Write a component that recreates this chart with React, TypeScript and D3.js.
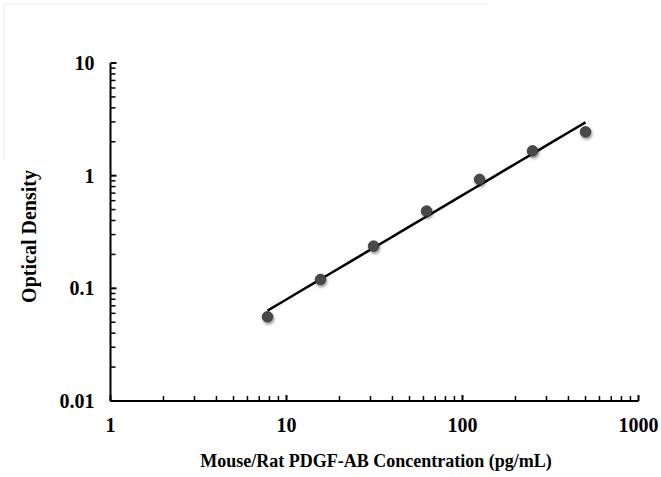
import React from "react";
import * as d3 from "d3";

const concentrations = [7.8, 15.6, 31.25, 62.5, 125, 250, 500];
const opticalDensity = [0.056, 0.12, 0.237, 0.485, 0.927, 1.66, 2.45];
const xTicks = [1, 10, 100, 1000];
const yTicks = [0.01, 0.1, 1, 10];
const xTitle = "Mouse/Rat PDGF-AB Concentration (pg/mL)";
const yTitle = "Optical Density";

const W = 661, H = 477;
const margin = { left: 110.5, right: 22.5, top: 63, bottom: 76 };

function minorTicks(lo: number, hi: number) {
  const out: number[] = [];
  for (let p = Math.log10(lo); p < Math.log10(hi); p++) {
    for (let k = 2; k <= 9; k++) out.push(k * Math.pow(10, p));
  }
  return out;
}

export default function App() {
  const x = d3.scaleLog().domain([1, 1000]).range([margin.left, W - margin.right]);
  const y = d3.scaleLog().domain([0.01, 10]).range([H - margin.bottom, margin.top]);

  // power-law trendline via least squares in log-log space
  const lx = concentrations.map(Math.log10);
  const ly = opticalDensity.map(Math.log10);
  const mx = d3.mean(lx)!, my = d3.mean(ly)!;
  const b = d3.sum(lx.map((v, i) => (v - mx) * (ly[i] - my))) / d3.sum(lx.map(v => (v - mx) ** 2));
  const a = my - b * mx;
  const xs0 = concentrations[0], xs1 = concentrations[concentrations.length - 1];
  const fitPts: [number, number][] = d3.range(0, 21).map(i => {
    const xv = Math.pow(10, Math.log10(xs0) + (Math.log10(xs1) - Math.log10(xs0)) * i / 20);
    return [xv, Math.pow(10, a + b * Math.log10(xv))];
  });
  const line = d3.line<[number, number]>().x(d => x(d[0])).y(d => y(d[1]));

  const x0 = x(1), yb = y(0.01);
  const font = "'Liberation Serif', 'Times New Roman', serif";

  return (
    <svg width={W} height={H} style={{ position: "absolute", left: 0, top: 0, background: "#fff" }} fontFamily={font}>
      <defs>
        <filter id="sh" x="-100%" y="-100%" width="300%" height="300%">
          <feGaussianBlur in="SourceAlpha" stdDeviation="1.6" />
          <feOffset dx="1" dy="1.5" result="o" />
          <feComponentTransfer><feFuncA type="linear" slope="0.45" /></feComponentTransfer>
          <feMerge><feMergeNode /><feMergeNode in="SourceGraphic" /></feMerge>
        </filter>
      </defs>
      <path d="M4,160 V4 H489" fill="none" stroke="#f2f2f2" strokeWidth={1.5} />
      {/* axes */}
      <line x1={x0} x2={x0} y1={y(10)} y2={yb} stroke="#000" strokeWidth={2} />
      <line x1={x0} x2={x(1000)} y1={yb} y2={yb} stroke="#000" strokeWidth={2} />
      {yTicks.map(t => (
        <line key={"yt" + t} x1={x0} x2={x0 + 6} y1={y(t)} y2={y(t)} stroke="#000" strokeWidth={2} />
      ))}
      {minorTicks(0.01, 10).map(t => (
        <line key={"ym" + t} x1={x0} x2={x0 + 5} y1={y(t)} y2={y(t)} stroke="#000" strokeWidth={1.5} />
      ))}
      {xTicks.map(t => (
        <line key={"xt" + t} x1={x(t)} x2={x(t)} y1={yb} y2={yb - 6} stroke="#000" strokeWidth={2} />
      ))}
      {minorTicks(1, 1000).map(t => (
        <line key={"xm" + t} x1={x(t)} x2={x(t)} y1={yb} y2={yb - 5} stroke="#000" strokeWidth={1.5} />
      ))}
      {yTicks.map(t => (
        <text key={"yl" + t} x={x0 - 16} y={y(t)} dy="0.35em" textAnchor="end" fontSize={20} fontWeight="bold">{String(t)}</text>
      ))}
      {xTicks.map(t => (
        <text key={"xl" + t} x={x(t)} y={yb + 31} textAnchor="middle" fontSize={20} fontWeight="bold">{String(t)}</text>
      ))}
      <text x={376} y={467} textAnchor="middle" fontSize={18} fontWeight="bold">{xTitle}</text>
      <text transform={`translate(36,236.5) rotate(-90)`} textAnchor="middle" fontSize={20} fontWeight="bold">{yTitle}</text>
      <path d={line(fitPts)!} fill="none" stroke="#000" strokeWidth={2.5} />
      {concentrations.map((c, i) => (
        <circle key={"p" + i} cx={x(c)} cy={y(opticalDensity[i])} r={5.3} fill="#4a4a4a" stroke="#333" strokeWidth={0.8} filter="url(#sh)" />
      ))}
    </svg>
  );
}
